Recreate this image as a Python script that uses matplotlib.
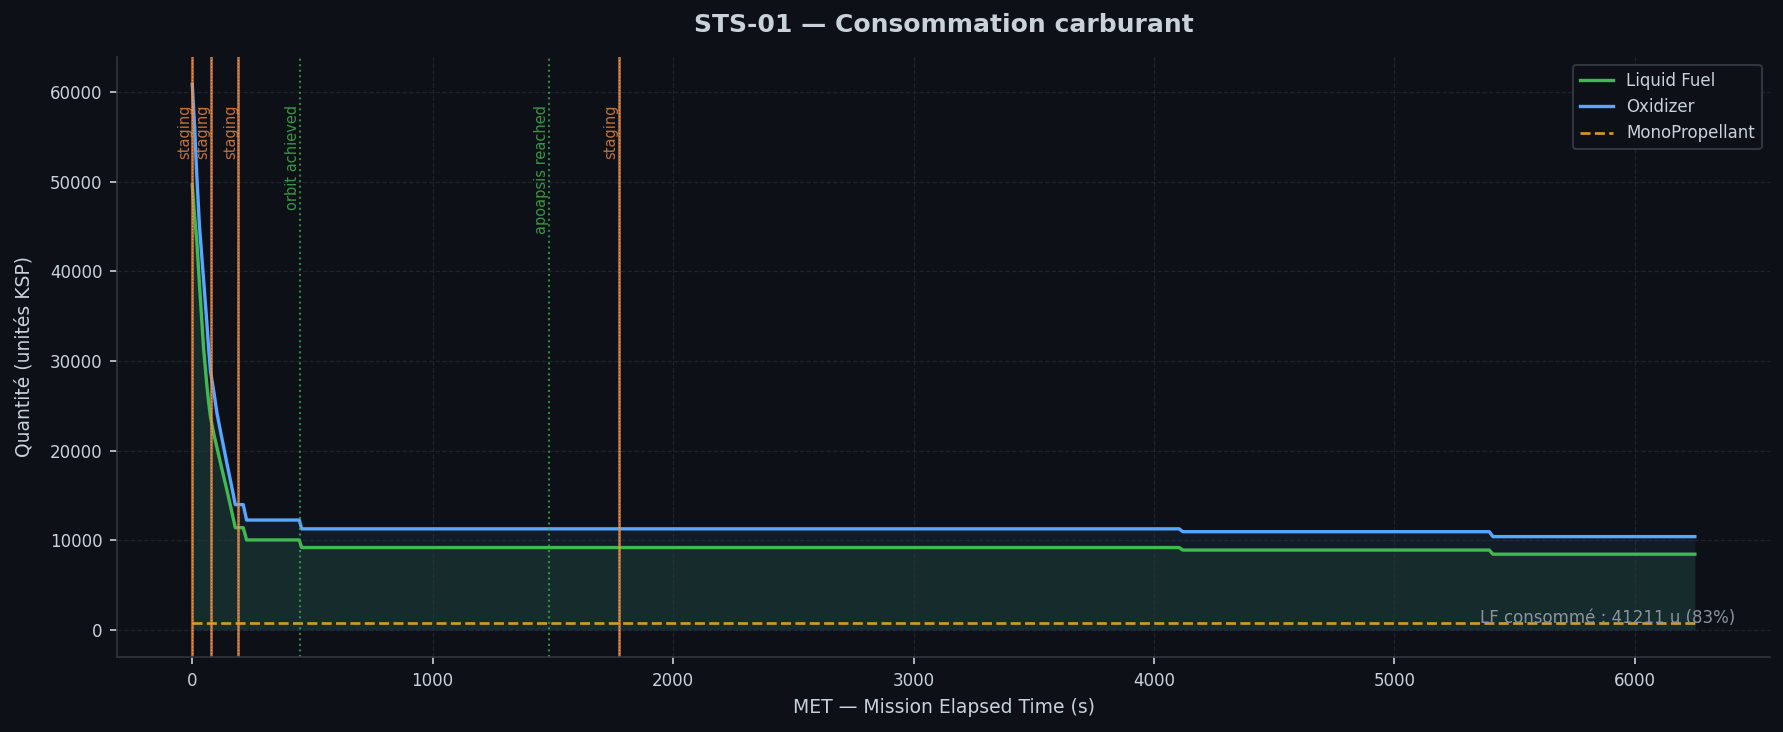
import numpy as np
import matplotlib
matplotlib.use("Agg")
import matplotlib.pyplot as plt
import matplotlib.transforms as mtransforms

BG = '#0d1117'
FG = '#c9d1d9'
GRID = '#30363d'

# temps (s) et quantités
t = [0, 10, 19, 30, 47, 60, 68, 76, 90, 103, 120, 144, 160, 179, 212, 226,
     445, 455, 4105, 4120, 5395, 5410, 6250]
liquid_fuel = [49650, 46000, 43340, 38500, 31400, 27500, 25400, 23700, 21800,
               20300, 18300, 15600, 13700, 11400, 11400, 10030, 10030, 9180,
               9180, 8900, 8900, 8439, 8439]
oxidizer = [60860, 56000, 50600, 45000, 39080, 34500, 31400, 28820, 26500,
            24130, 21800, 18580, 16500, 13970, 13970, 12250, 12250, 11270,
            11270, 10950, 10950, 10400, 10400]
mono_t = [0, 6250]
mono = [800, 800]

events_t = [0, 76, 192, 448, 1485, 1773]
events_lbl = ['staging', 'staging', 'staging', 'orbit achieved',
              'apoapsis reached', 'staging']

lf_used = 41211
lf_pct = 83


def main():
    plt.rcParams['font.family'] = ['DejaVu Sans']
    fig = plt.figure(figsize=(1783 / 150, 732 / 150), dpi=150, facecolor=BG)
    ax = fig.add_axes([0.0657, 0.1023, 0.927, 0.8202])
    ax.set_facecolor(BG)

    ax.fill_between(t, 0, oxidizer, color='#58a6ff', alpha=0.08, lw=0)
    ax.fill_between(t, 0, liquid_fuel, color='#3fb950', alpha=0.10, lw=0)
    ax.plot(t, liquid_fuel, color='#3fb950', lw=1.6, label='Liquid Fuel')
    ax.plot(t, oxidizer, color='#58a6ff', lw=1.6, label='Oxidizer')
    ax.plot(mono_t, mono, color='#d29922', lw=1.3, ls='--', label='MonoPropellant')

    trans = mtransforms.blended_transform_factory(ax.transData, ax.transAxes)
    for x, lbl in zip(events_t, events_lbl):
        if lbl == 'staging':
            col = '#f0883e'
            ax.axvline(x, color=col, lw=1.3, alpha=0.75)
            ax.axvline(x, color='#f5a66e', lw=0.6, ls=':', alpha=0.8)
        else:
            col = '#3fb950'
            ax.axvline(x, color=col, lw=1.0, ls=':', alpha=0.7)
        ax.text(x, 0.92, lbl, rotation=90, transform=trans, ha='right', va='top',
                fontsize=7, color=col, alpha=0.8)

    ax.text(0.979, 0.05, f'LF consommé : {lf_used} u ({lf_pct}%)',
            transform=ax.transAxes, ha='right', va='bottom', fontsize=8,
            color='#8b949e')

    ax.set_xlim(-312.5, 6562.5)
    ax.set_ylim(-3045, 63945)
    ax.grid(True, color=GRID, ls='--', lw=0.6, alpha=0.5)
    for s in ['top', 'right']:
        ax.spines[s].set_visible(False)
    for s in ['left', 'bottom']:
        ax.spines[s].set_color(GRID)
    ax.tick_params(colors=FG, labelsize=8)

    ax.set_xlabel('MET — Mission Elapsed Time (s)', color=FG, fontsize=9)
    ax.set_ylabel('Quantité (unités KSP)', color=FG, fontsize=9, labelpad=8)
    ax.set_title('STS-01 — Consommation carburant', color=FG, fontsize=12,
                 fontweight='bold', pad=12)

    leg = ax.legend(loc='upper right', fontsize=8, facecolor=BG,
                    edgecolor=GRID, framealpha=1)
    for txt in leg.get_texts():
        txt.set_color(FG)

    fig.savefig('out.png', dpi=150, facecolor=BG)


if __name__ == '__main__':
    main()
